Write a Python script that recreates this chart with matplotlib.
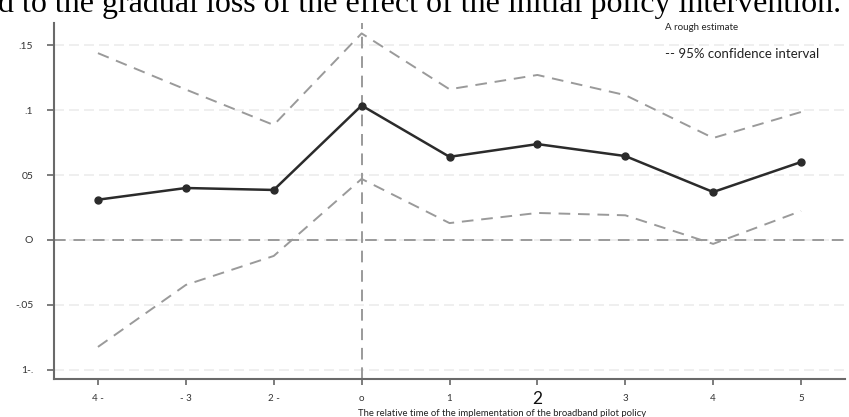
import matplotlib
matplotlib.use("Agg")
import matplotlib.pyplot as plt
import matplotlib.transforms as mtransforms

# 相对时间（类别）与刻度标签
periods = [-4, -3, -2, 0, 1, 2, 3, 4, 5]
xtick_labels = ["4 -", "- 3", "2 -", "o", "1", "2", "3", "4", "5"]

# 点估计与95%置信区间
estimate = [0.031, 0.040, 0.0385, 0.1035, 0.064, 0.0738, 0.0646, 0.0369, 0.060]
ci_upper = [0.1438, 0.1158, 0.0885, 0.159, 0.116, 0.127, 0.1115, 0.0785, 0.0985]
ci_lower = [-0.0823, -0.0346, -0.0123, 0.047, 0.013, 0.0208, 0.019, -0.003, 0.0223]

ytick_vals = [0.15, 0.1, 0.05, 0, -0.05, -0.1]
ytick_labels = [".15", ".1", "05", "O", "-.05", "1-."]

W, H = 849, 417
fig = plt.figure(figsize=(W / 100, H / 100), dpi=100)
ax = fig.add_axes([54 / W, (H - 379) / H, (845 - 54) / W, (379 - 23) / H])

xs = list(range(len(periods)))

grey = "#9a9a9a"
# 网格线
for v in ytick_vals:
    ax.axhline(v, color="#ececec", lw=1.2, ls=(0, (6, 3)), zorder=0)
ax.axhline(0, color=grey, lw=1.4, ls=(0, (6, 4)), zorder=1)
ax.axvline(periods.index(0), color=grey, lw=1.4, ls=(0, (6, 4)), zorder=1)

ax.plot(xs, ci_upper, color=grey, lw=1.4, ls=(0, (6, 4)), zorder=2)
ax.plot(xs, ci_lower, color=grey, lw=1.4, ls=(0, (6, 4)), zorder=2)
ax.plot(xs, estimate, color="#2b2b2b", lw=1.8, marker="o", ms=5, zorder=3)

ax.set_xlim(-0.5, 8.5)
ax.set_ylim(-0.107, 0.167)

ax.set_yticks(ytick_vals)
ax.set_yticklabels(ytick_labels, fontsize=7.5, family="Lato", color="#333333")
ax.set_xticks(xs)
ax.set_xticklabels(xtick_labels, fontsize=7, family="Lato", color="#333333")

ax.tick_params(axis="y", length=5, width=1.2, color="#666666", pad=10)
ax.tick_params(axis="x", length=4, width=1.2, color="#666666", pad=7)

# 放大的"2"标签，稍微上移
for lab in ax.get_xticklabels():
    if lab.get_text() == "2":
        lab.set_fontsize(12.5)
        lab.set_color("#111111")
        lab.set_transform(lab.get_transform() +
                          mtransforms.ScaledTranslation(0, 3 / 100, fig.dpi_scale_trans))

for s in ["top", "right"]:
    ax.spines[s].set_visible(False)
for s in ["left", "bottom"]:
    ax.spines[s].set_color("#6a6a6a")
    ax.spines[s].set_linewidth(1.5)

# 图例文字
fig.text(665 / W, 1 - 28 / H, "A rough estimate", fontsize=7, family="Lato",
         va="center", ha="left", color="#222222")
fig.text(665 / W, 1 - 54 / H, "-- 95% confidence interval", fontsize=9.5, family="Lato",
         va="center", ha="left", color="#222222")

# x轴标题
fig.text(502 / W, 1 - 413 / H,
         "The relative time of the implementation of the broadband pilot policy",
         fontsize=6.8, family="Lato", va="center", ha="center", color="#222222")

# 顶部被截断的正文，按宽度调整字号
top = fig.text(-2 / W, 1 - 12 / H,
               "d to the gradual loss of the effect of the initial policy intervention.",
               fontsize=18.5, family="Liberation Serif", va="baseline", ha="left", color="black")
r = fig.canvas.get_renderer()
w = top.get_window_extent(r).width
top.set_fontsize(18.5 * 847 / w)

fig.savefig("out.png", dpi=100, facecolor="white")
